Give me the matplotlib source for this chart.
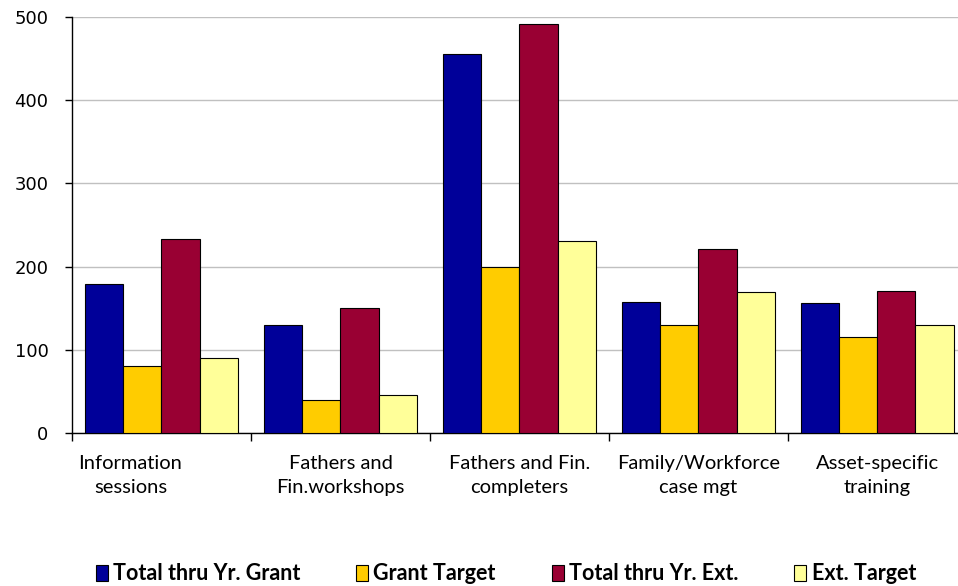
import numpy as np
import matplotlib.pyplot as plt
import matplotlib.transforms as mtransforms
from matplotlib.patches import Patch

categories = ['Information\nsessions', 'Fathers and\nFin.workshops', 'Fathers and Fin.\ncompleters',
              'Family/Workforce\ncase mgt', 'Asset-specific\ntraining']
series_names = ['Total thru Yr. Grant', 'Grant Target', 'Total thru Yr. Ext.', 'Ext. Target']
total_grant = [179, 130, 456, 158, 156]
grant_target = [80, 40, 200, 130, 115]
total_ext = [233, 150, 491, 221, 171]
ext_target = [90, 46, 231, 169, 130]
colors = ['#000099', '#FFCC00', '#990033', '#FFFF99']

label_font = ['Lato', 'DejaVu Sans']

fig = plt.figure(figsize=(9.58, 5.86), dpi=100)
ax = fig.add_axes([72 / 958, 1 - 433 / 586, 1 - 72 / 958, (433 - 17) / 586])

x = np.arange(len(categories))
w = 0.2125
all_series = [total_grant, grant_target, total_ext, ext_target]
for i, vals in enumerate(all_series):
    ax.bar(x + (i - 1.5) * w, vals, w, color=colors[i], edgecolor='black', linewidth=0.8,
           zorder=3, label=series_names[i])

ax.set_ylim(0, 500)
ax.set_xlim(-0.5, 4.45)
ax.set_yticks([0, 100, 200, 300, 400, 500])
ax.yaxis.grid(True, color='#c0c0c0', linewidth=1, zorder=0)
ax.tick_params(axis='y', labelsize=13, length=5, width=1, direction='out', pad=12)
ax.tick_params(axis='x', which='major', length=0, pad=16)
ax.tick_params(axis='x', which='minor', length=6, width=1, direction='out')
ax.set_xticks(x)
ax.set_xticks(np.arange(-0.5, 4.5, 1.0), minor=True)
ax.set_xticklabels(categories, fontsize=14.5, family=label_font, linespacing=1.5)
for s in ['top', 'right']:
    ax.spines[s].set_visible(False)
ax.spines['left'].set_linewidth(1)
ax.spines['bottom'].set_linewidth(1)

# first label sits left of its group
first = ax.get_xticklabels()[0]
first.set_transform(first.get_transform() + mtransforms.ScaledTranslation(-0.31, 0, fig.dpi_scale_trans))

handles = [Patch(facecolor=c, edgecolor='black', linewidth=0.8) for c in colors]
fig.legend(handles, series_names, loc='center', bbox_to_anchor=(0.528, 1 - 574 / 586), ncol=4,
           frameon=False, handlelength=0.55, handleheight=0.75, handletextpad=0.25, columnspacing=2.6,
           prop={'family': label_font, 'weight': 'bold', 'size': 15.5})

fig.savefig('out.png', dpi=100)
